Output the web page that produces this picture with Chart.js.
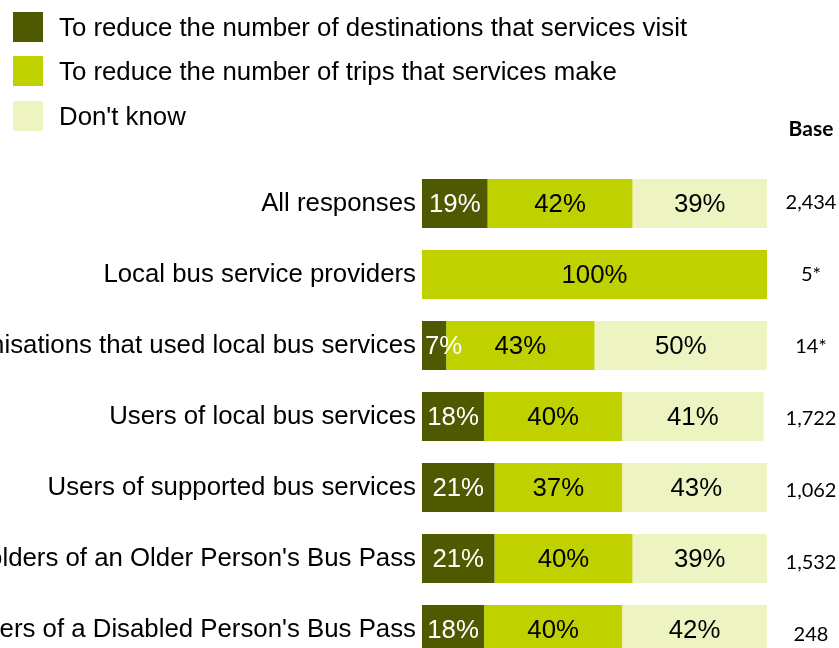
<!DOCTYPE html>
<html>
<head>
<meta charset="utf-8">
<script src="https://cdn.jsdelivr.net/npm/chart.js@4.4.1/dist/chart.umd.min.js"></script>
<style>
  html, body { margin: 0; padding: 0; background: #fff; }
  #frame { position: relative; width: 839px; height: 648px; overflow: hidden; font-family: "Liberation Sans", Arial, sans-serif; }
  #holder { position: absolute; left: -300px; top: 0; width: 1139px; height: 690px; }
  #legend { position: absolute; left: 13px; top: 0; }
  .item { position: absolute; left: 0; white-space: nowrap; height: 30px; line-height: 30px; font-size: 25.8px; color: #000; }
  .swatch { position: absolute; left: 0; top: 0; width: 30px; height: 30px; }
  .item span { position: absolute; left: 46px; top: 0; }
</style>
</head>
<body>
<div id="frame">
  <div id="holder"><canvas id="myChart" width="1139" height="690"></canvas></div>
  <div id="legend"></div>
</div>
<script>
var categories = [
    "All responses",
    "Local bus service providers",
    "Organisations that used local bus services",
    "Users of local bus services",
    "Users of supported bus services",
    "Holders of an Older Person's Bus Pass",
    "Holders of a Disabled Person's Bus Pass"
];
var seriesNames = [
    "To reduce the number of destinations that services visit",
    "To reduce the number of trips that services make",
    "Don't know"
];
var fewerDestinations = [19, 0, 7, 18, 21, 21, 18];
var fewerTrips = [42, 100, 43, 40, 37, 40, 40];
var dontKnow = [39, 0, 50, 41, 43, 39, 42];
var baseSizes = ["2,434", "5*", "14*", "1,722", "1,062", "1,532", "248"];

var colours = ['#4f5900', '#c0d100', '#eef4c1'];
var labelColours = ['#ffffff', '#000000', '#000000'];
var mainFont = '"Liberation Sans", Arial, sans-serif';
var baseFont = 'Lato, "Open Sans", sans-serif';

// legend rows, built from the series names
var legendBox = document.getElementById('legend');
seriesNames.forEach(function (name, i) {
    var row = document.createElement('div');
    row.className = 'item';
    row.style.top = (11.7 + i * 44.5) + 'px';
    row.innerHTML = '<div class="swatch" style="background:' + colours[i] + '"></div><span></span>';
    row.querySelector('span').textContent = name;
    legendBox.appendChild(row);
});

// percentages inside the bars plus the base column on the right
var barText = {
    id: 'barText',
    afterDatasetsDraw: function (chart) {
        var ctx = chart.ctx;
        ctx.save();
        ctx.font = '25.8px ' + mainFont;
        ctx.textBaseline = 'middle';
        ctx.textAlign = 'center';
        chart.data.datasets.forEach(function (ds, d) {
            var meta = chart.getDatasetMeta(d);
            meta.data.forEach(function (bar, i) {
                var v = ds.data[i];
                if (!v) return;
                var txt = v + '%';
                var w = ctx.measureText(txt).width;
                var left = Math.min(bar.x, bar.base);
                var cx = (bar.x + bar.base) / 2;
                // keep narrow-segment labels from spilling past the bar start
                if (cx - w / 2 < left + 3) cx = left + 3 + w / 2;
                ctx.fillStyle = labelColours[d];
                ctx.fillText(txt, cx, bar.y + 1);
            });
        });

        var yScale = chart.scales.y;
        var colX = chart.chartArea.right + 44;
        ctx.fillStyle = '#000';
        ctx.font = 'bold 21px ' + baseFont;
        ctx.fillText('Base', colX, 129);
        ctx.font = '20px ' + baseFont;
        baseSizes.forEach(function (b, i) {
            // the base column runs on a slightly looser pitch than the bars
            ctx.fillText(b, colX, yScale.getPixelForValue(i) + (i - 1.2) * 1.15);
        });
        ctx.restore();
    }
};

var ctx = document.getElementById('myChart').getContext('2d');
var chart = new Chart(ctx, {
    type: 'bar',
    data: {
        labels: categories,
        datasets: [
            { label: seriesNames[0], data: fewerDestinations, backgroundColor: colours[0] },
            { label: seriesNames[1], data: fewerTrips, backgroundColor: colours[1] },
            { label: seriesNames[2], data: dontKnow, backgroundColor: colours[2] }
        ]
    },
    options: {
        indexAxis: 'y',
        responsive: false,
        animation: false,
        devicePixelRatio: 1,
        categoryPercentage: 1,
        barPercentage: 0.69,
        layout: { padding: { top: 168, right: 72, bottom: 25, left: 0 } },
        plugins: {
            legend: { display: false },
            tooltip: { enabled: false }
        },
        scales: {
            x: { stacked: true, min: 0, max: 100, display: false },
            y: {
                stacked: true,
                grid: { display: false, drawTicks: false },
                border: { display: false },
                ticks: { color: '#000', padding: 6, font: { family: mainFont, size: 25.8 } },
                afterFit: function (scale) { scale.width = 722; }
            }
        }
    },
    plugins: [barText]
});
</script>
</body>
</html>
